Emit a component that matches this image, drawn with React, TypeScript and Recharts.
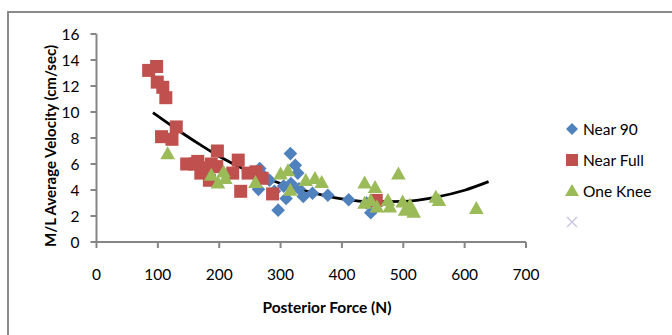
import React from 'react';
import { ComposedChart, Scatter, Line, XAxis, YAxis, Label } from 'recharts';

const near90: [number, number][] = [
  [264, 4.05], [266, 5.65], [270, 5.2], [282, 4.75], [290, 3.9], [296, 2.45], [305, 4.3],
  [309, 3.35], [316, 6.8], [317, 4.5], [324, 5.9], [328, 5.3], [330, 4.1], [337, 3.5],
  [352, 3.75], [377, 3.6], [411, 3.25], [440, 3.0], [447, 2.25],
];
const nearFull: [number, number][] = [
  [85, 13.2], [98, 13.5], [99, 12.3], [108, 11.9], [113, 11.1], [106, 8.1], [123, 7.9],
  [130, 8.85], [147, 6.0], [160, 6.0], [165, 6.2], [170, 5.3], [175, 5.7], [184, 4.75],
  [187, 6.0], [197, 7.0], [196, 5.8], [222, 5.3], [231, 6.3], [235, 3.9], [247, 5.3],
  [260, 5.4], [270, 4.9], [287, 3.7], [456, 3.2],
];
const oneKnee: [number, number][] = [
  [116, 6.8], [187, 5.15], [198, 4.55], [207, 5.4], [210, 4.9], [259, 4.6], [300, 5.25],
  [312, 5.5], [316, 4.0], [341, 4.75], [356, 4.9], [367, 4.6], [437, 4.55], [454, 4.2],
  [437, 3.0], [447, 3.2], [457, 2.7], [475, 3.2], [478, 2.7], [492, 5.25], [499, 3.1],
  [503, 2.45], [511, 2.85], [517, 2.3], [553, 3.45], [558, 3.2], [619, 2.6],
];
const trend: [number, number][] = [
  [92, 9.95], [136, 8.5], [170, 7.45], [201, 6.56], [250, 5.4], [300, 4.5], [350, 3.82],
  [400, 3.32], [450, 3.1], [500, 3.13], [550, 3.42], [600, 3.98], [639, 4.64],
];
const xTicks = [0, 100, 200, 300, 400, 500, 600, 700];
const yTicks = [0, 2, 4, 6, 8, 10, 12, 14, 16];
const seriesNames = ['Near 90', 'Near Full', 'One Knee'];

const toObj = (arr: [number, number][]) => arr.map(([x, y]) => ({ x, y }));

const BLUE = '#4F81BD';
const RED = '#C0504D';
const GREEN = '#9BBB59';
const FONT = 'Lato, "Open Sans", sans-serif';

const Diamond = (p: any) => {
  const { cx, cy } = p;
  if (cx == null || cy == null) return null;
  const r = 6.8;
  return <polygon points={`${cx},${cy - r} ${cx + r},${cy} ${cx},${cy + r} ${cx - r},${cy}`} fill={BLUE} />;
};
const Square = (p: any) => {
  const { cx, cy } = p;
  if (cx == null || cy == null) return null;
  const h = 6.5;
  return <rect x={cx - h} y={cy - h} width={2 * h} height={2 * h} fill={RED} />;
};
const Tri = (p: any) => {
  const { cx, cy } = p;
  if (cx == null || cy == null) return null;
  return <polygon points={`${cx},${cy - 7.3} ${cx + 7.3},${cy + 5.7} ${cx - 7.3},${cy + 5.7}`} fill={GREEN} />;
};

const tickStyle = { fontFamily: FONT, fontSize: 15.5, fill: '#000' };

export default function App() {
  return (
    <div style={{ position: 'fixed', left: 0, top: 0, width: 672, height: 335, overflow: 'hidden', background: '#fff' }}>
      <div style={{ position: 'absolute', left: 7, top: 11, width: 800, height: 500, border: '2px solid #8a8a8a', boxSizing: 'border-box' }} />
      <div style={{ position: 'absolute', left: 0, top: 0 }}>
        <ComposedChart width={672} height={335} margin={{ top: 34, right: 146, bottom: 0, left: 0 }}>
          <XAxis
            type="number"
            dataKey="x"
            domain={[0, 700]}
            ticks={xTicks}
            interval={0}
            height={93}
            tickSize={6}
            tickMargin={21}
            axisLine={{ stroke: '#868686', strokeWidth: 2 }}
            tickLine={{ stroke: '#868686', strokeWidth: 2 }}
            tick={tickStyle}
          >
            <Label
              content={() => (
                <text x={327} y={307} textAnchor="middle" dominantBaseline="central" fontFamily={FONT} fontWeight="bold" fontSize={15.5} fill="#000">
                  Posterior Force (N)
                </text>
              )}
            />
          </XAxis>
          <YAxis
            type="number"
            dataKey="y"
            domain={[0, 16]}
            ticks={yTicks}
            interval={0}
            width={96.5}
            tickSize={6}
            tickMargin={11}
            axisLine={{ stroke: '#868686', strokeWidth: 2 }}
            tickLine={{ stroke: '#868686', strokeWidth: 2 }}
            tick={tickStyle}
          >
            <Label
              content={() => (
                <text x={50} y={146} transform="rotate(-90 50 146)" textAnchor="middle" dominantBaseline="central" fontFamily={FONT} fontWeight="bold" fontSize={15} fill="#000">
                  M/L Average Velocity (cm/sec)
                </text>
              )}
            />
          </YAxis>
          <Scatter name={seriesNames[0]} data={toObj(near90)} dataKey="y" shape={Diamond} isAnimationActive={false} />
          <Scatter name={seriesNames[1]} data={toObj(nearFull)} dataKey="y" shape={Square} isAnimationActive={false} />
          <Scatter name={seriesNames[2]} data={toObj(oneKnee)} dataKey="y" shape={Tri} isAnimationActive={false} />
          <Line
            data={toObj(trend)}
            dataKey="y"
            type="monotone"
            stroke="#000"
            strokeWidth={2.8}
            dot={false}
            activeDot={false}
            isAnimationActive={false}
          />
        </ComposedChart>
      </div>
      <div style={{ position: 'absolute', left: 562, top: 113, fontFamily: FONT, fontSize: 15.5, color: '#000' }}>
        {[0, 1, 2, 3].map((i) => (
          <div key={i} style={{ display: 'flex', alignItems: 'center', height: 31 }}>
            <svg width={20} height={20} style={{ marginRight: 1 }}>
              {i === 0 && <polygon points="10,4 16,10 10,16 4,10" fill={BLUE} />}
              {i === 1 && <rect x={4} y={4} width={12} height={12} fill={RED} />}
              {i === 2 && <polygon points="10,3 17,15 3,15" fill={GREEN} />}
              {i === 3 && (
                <g stroke="#c9c3e3" strokeWidth={1.2}>
                  <line x1={5} y1={5} x2={15} y2={15} />
                  <line x1={15} y1={5} x2={5} y2={15} />
                </g>
              )}
            </svg>
            <span>{i < 3 ? seriesNames[i] : ''}</span>
          </div>
        ))}
      </div>
    </div>
  );
}
